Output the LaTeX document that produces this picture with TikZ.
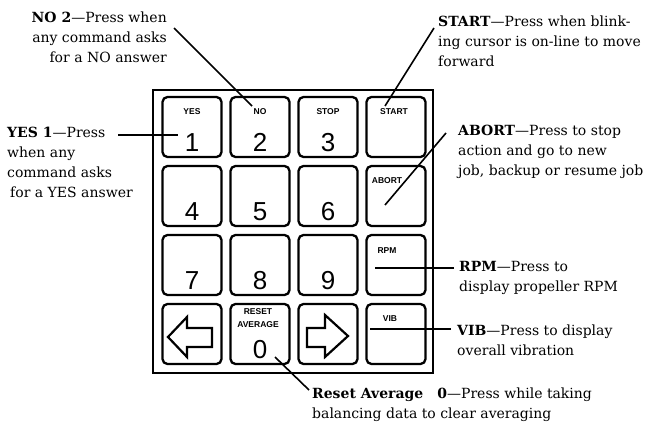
\documentclass[tikz,border=0pt]{standalone}
\usepackage{fontspec}
\setmainfont{DejaVu Serif}
\newfontfamily\keyfont{Liberation Sans}
\usetikzlibrary{positioning}

\tikzset{
  key/.style={draw, line width=2.3pt, rounded corners=5pt, minimum width=59pt, minimum height=60pt, inner sep=0pt},
  keytag/.style={font=\keyfont\bfseries\fontsize{8.5}{8.5}\selectfont, inner sep=0pt},
  digit/.style={font=\keyfont\fontsize{26}{26}\selectfont, inner sep=0pt, anchor=base},
  callout/.style={line width=1.6pt},
  note/.style={font=\fontsize{14}{20}\selectfont, inner sep=0pt},
}

\begin{document}
\begin{tikzpicture}[x=1pt,y=-1pt]
\useasboundingbox (0,0) rectangle (653,428);
\draw[line width=2.6pt] (153,90) rectangle (433,373);
% keypad
\foreach \c in {1,...,4} {
	\foreach \r in {1,...,4} {
		\node[key] (k\c\r) at ({192+68*(\c-1)},{127+69*(\r-1)}) {};
	}
}
\foreach \c/\r/\d in {1/1/1,2/1/2,3/1/3,1/2/4,2/2/5,3/2/6,1/3/7,2/3/8,3/3/9,2/4/0} {
	\node[digit] (d\d) at ([shift={(0,-7)}]k\c\r.south) {\d};
}
\node[keytag] (tYes) at ([shift={(0,16)}]k11.north) {YES};
\node[keytag] (tNo) at ([shift={(0,16)}]k21.north) {NO};
\node[keytag] (tStop) at ([shift={(0,16)}]k31.north) {STOP};
\node[keytag] (tStart) at ([shift={(-2,16)}]k41.north) {START};
\node[keytag] (tAbort) at ([shift={(-9,16)}]k42.north) {ABORT};
\node[keytag] (tRpm) at ([shift={(-9,17)}]k43.north) {RPM};
\node[keytag] (tVib) at ([shift={(-6,16)}]k44.north) {VIB};
\node[keytag] (tReset) at ([shift={(-2,9)}]k24.north) {RESET};
\node[keytag] (tAvg) at ([shift={(-2,22)}]k24.north) {AVERAGE};
% arrow keys
\draw[line width=2.2pt] ([shift={(-24,3)}]k14.center) -- ([shift={(-5,-17)}]k14.center)
	-- ([shift={(-5,-6)}]k14.center) -- ([shift={(20,-6)}]k14.center)
	-- ([shift={(20,13)}]k14.center) -- ([shift={(-5,13)}]k14.center)
	-- ([shift={(-5,23)}]k14.center) -- cycle;
\draw[line width=2.2pt] ([shift={(20,2)}]k34.center) -- ([shift={(-3,-19)}]k34.center)
	-- ([shift={(-3,-6)}]k34.center) -- ([shift={(-21,-6)}]k34.center)
	-- ([shift={(-21,13)}]k34.center) -- ([shift={(-3,13)}]k34.center)
	-- ([shift={(-3,23)}]k34.center) -- cycle;
% notes
\node[note, anchor=north east, align=right] (lblNo) at (167,12)
	{\textbf{NO 2}---Press when\\any command asks\\for a NO answer};
\node[note, anchor=north west, align=left] (lblYes) at (7,127)
	{\textbf{YES 1}---Press\\when any\\command asks\\\hspace*{3pt}for a YES answer};
\node[note, anchor=north west, align=left] (lblStart) at (438,16)
	{\textbf{START}---Press when blink-\\ing cursor is on-line to move\\forward};
\node[note, anchor=north west, align=left] (lblAbort) at (458,125)
	{\textbf{ABORT}---Press to stop\\action and go to new\\job, backup or resume job};
\node[note, anchor=north west, align=left] (lblRpm) at (459,261)
	{\textbf{RPM}---Press to\\display propeller RPM};
\node[note, anchor=north west, align=left] (lblVib) at (457,325)
	{\textbf{VIB}---Press to display\\overall vibration};
\node[note, anchor=north west, align=left] (lblReset) at (312,388)
	{\textbf{Reset Average}\quad\textbf{0}---Press while taking\\balancing data to clear averaging};
% callouts
\draw[callout] ([shift={(7,16)}]lblNo.north east) -- ([shift={(-8,-21)}]k21.center);
\draw[callout] ([shift={(111,8)}]lblYes.north west) -- ([shift={(-14,8)}]k11.center);
\draw[callout] ([shift={(-4,12)}]lblStart.north west) -- ([shift={(-11,-21)}]k41.center);
\draw[callout] ([shift={(-12,8)}]lblAbort.north west) -- ([shift={(-11,9)}]k42.center);
\draw[callout] ([shift={(-5,7)}]lblRpm.north west) -- ([shift={(-21,3)}]k43.center);
\draw[callout] ([shift={(-6,4)}]lblVib.north west) -- ([shift={(-26,-5)}]k44.center);
\draw[callout] ([shift={(-3,2)}]lblReset.north west) -- ([shift={(15,23)}]k24.center);
\end{tikzpicture}
\end{document}
